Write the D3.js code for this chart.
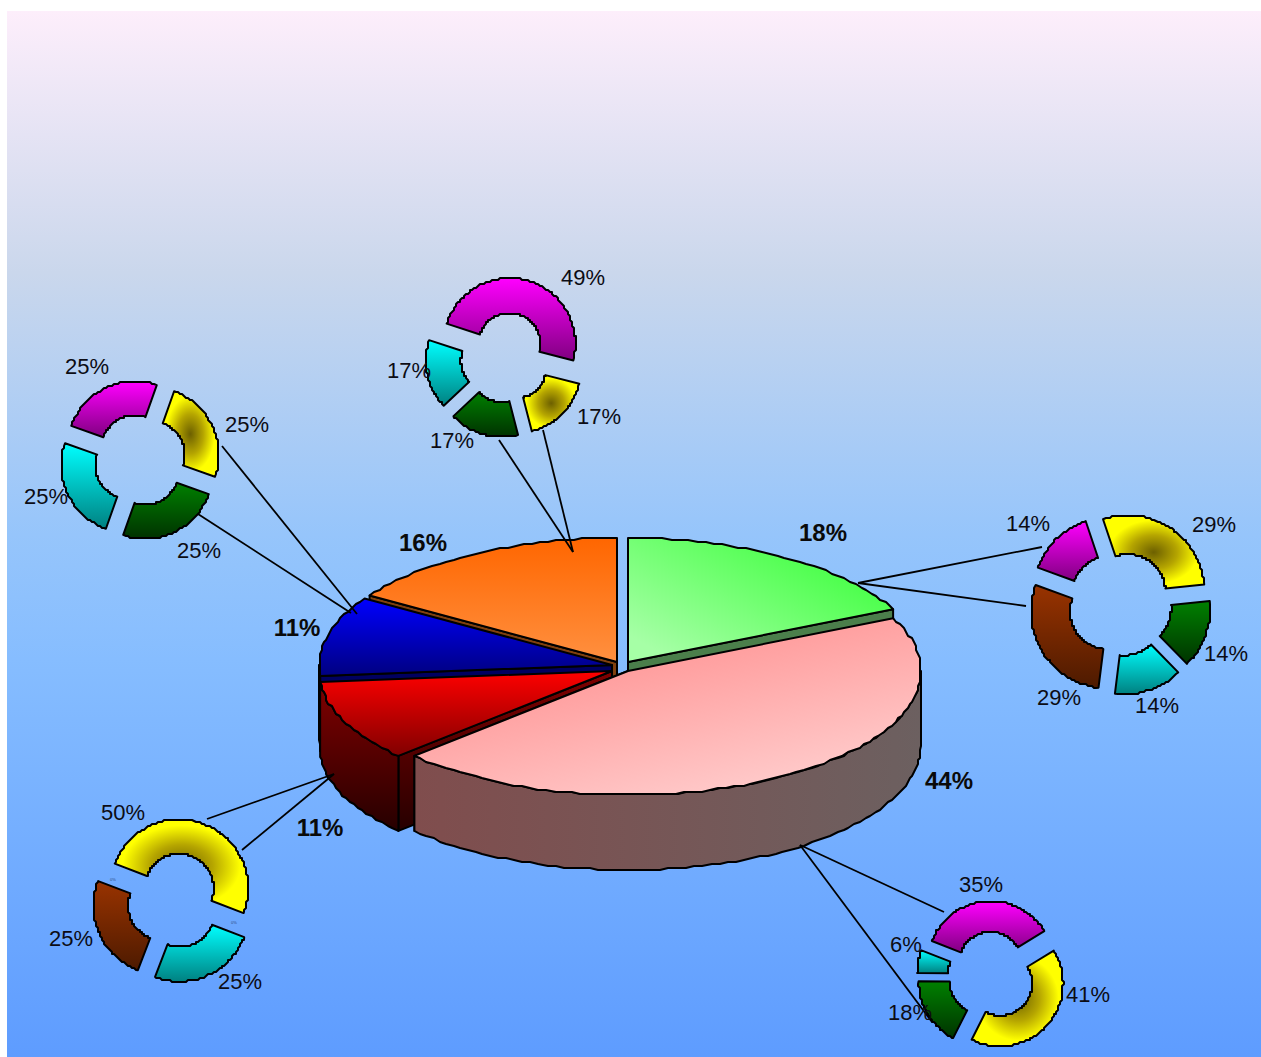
<!DOCTYPE html>
<html><head><meta charset="utf-8">
<script src="https://cdn.jsdelivr.net/npm/d3@7/dist/d3.min.js"></script>
<style>html,body{margin:0;padding:0;background:#fff}svg{display:block}text{font-family:"Liberation Sans",Arial,sans-serif}</style>
</head><body><div id="chart"></div>
<script>
// ---- data ----
const mainCategories = ["green","pink","red","blue","orange"];
const mainValues = [18, 45, 10.6, 10.4, 16];
const mainLabels = ["18%","44%","11%","11%","16%"];
const donutTopValues = [49,17,17,17];
const donutTopColors = ["magenta","yellow","green","cyan"];
const donutLeftValues = [1,1,1,1];
const donutLeftColors = ["magenta","yellow","green","cyan"];
const donutRightValues = [2,1,1,2,1];
const donutRightColors = ["yellow","green","cyan","brown","magenta"];
const donutLowLeftValues = [2,1,1];
const donutLowLeftColors = ["yellow","cyan","brown"];
const donutLowRightValues = [6,7,3,1];
const donutLowRightColors = ["magenta","yellow","green","cyan"];

// ---- layout ----
const W=1261,H=1057;
const RX=293,RY=124,DEPTH=75;
const mainCentres=[[628,662],[628,671],[612,671],[612,665],[617,662]];
const mainLabelPos=[[823,532],[949,780],[320,827],[297,627],[423,542]];
const donuts=[
 {v:donutTopValues,c:donutTopColors,x:505.5,y:357.5,r1:66,r0:31,off:14,start:-72,
  pos:[[583,277],[599,416],[452,440],[409,370]]},
 {v:donutLeftValues,c:donutLeftColors,x:140,y:460,r1:67,r0:33,off:13,start:-70.5,
  pos:[[87,366],[247,424],[199,550],[46,496]]},
 {v:donutRightValues,c:donutRightColors,x:1120,y:604,r1:77,r0:38,off:14,start:-18.6,
  pos:[[1214,524],[1226,653],[1157,705],[1059,697],[1028,523]]},
 {v:donutLowLeftValues,c:donutLowLeftColors,x:174.5,y:900.5,r1:69,r0:34.5,off:13,start:-69,
  pos:[[123,812],[240,981],[71,938]]},
 {v:donutLowRightValues,c:donutLowRightColors,x:991.5,y:975.6,r1:63,r0:32,off:11.6,start:-68.5,
  pos:[[981,884],[1088,994],[910,1012],[906,944]]}
];
const leaders=[
 [[573,552],[499,440]],[[573,552],[543,430]],
 [[357,614],[222,446]],[[351,613],[198,514]],
 [[858,583],[1042,547]],[[858,583],[1026,606]],
 [[334,774],[207,819]],[[334,774],[242,850]],
 [[800,845],[944,912]],[[800,845],[932,1022]]
];
const tinyLabels=[[113,880.5],[234,923.5]];

const svg=d3.select("#chart").append("svg").attr("width",W).attr("height",H);
const defs=svg.append("defs");
function grad(id,stops,x1=0,y1=0,x2=0,y2=1){
  const g=defs.append("linearGradient").attr("id",id).attr("x1",x1).attr("y1",y1).attr("x2",x2).attr("y2",y2);
  stops.forEach(s=>g.append("stop").attr("offset",s[0]).attr("stop-color",s[1]));
}
grad("bg",[[0,"#fdeefb"],[.25,"#cad7ec"],[.5,"#96c5fb"],[.62,"#86bdff"],[1,"#5e9cff"]]);
grad("magenta",[[0,"#ff00ff"],[1,"#800080"]]);
grad("green",[[0,"#008000"],[1,"#003300"]]);
grad("cyan",[[0,"#00ffff"],[1,"#008080"]]);
grad("brown",[[0,"#993300"],[1,"#4d1a00"]]);
const ry=defs.append("radialGradient").attr("id","yellow").attr("cx",.5).attr("cy",.5).attr("r",.52);
[[0,"#6d6000"],[.45,"#b5a500"],[.85,"#ffff00"],[1,"#ffff00"]].forEach(s=>ry.append("stop").attr("offset",s[0]).attr("stop-color",s[1]));
grad("t-green",[[0,"#a6ffa6"],[1,"#40ff40"]],.1,.9,.9,.2);
grad("t-pink",[[0,"#ff9999"],[1,"#ffcccc"]],.25,.3,.7,1);
grad("t-red",[[0,"#ff0000"],[1,"#800000"]]);
grad("t-blue",[[0,"#0000ff"],[1,"#000080"]]);
grad("t-orange",[[0,"#ff6600"],[1,"#ff9040"]]);
grad("w-pink",[[0,"#804d4d"],[1,"#6c6060"]],0,0,1,0);
grad("w-red",[[0,"#800000"],[1,"#260000"]]);
grad("c-red",[[0,"#800000"],[1,"#260000"]]);
const sideFill={green:"#4b7f4b",pink:"url(#w-pink)",red:"url(#w-red)",blue:"#000050",orange:"#7f3f10"};
const cutFill={green:"#4b7f4b",pink:"#804d4d",red:"url(#c-red)",blue:"#000060",orange:"#80400f"};

svg.append("rect").attr("x",7).attr("y",11).attr("width",W-7).attr("height",H-11).attr("fill","url(#bg)");

const line=d3.line();
const GRID=2;
const snap=v=>Math.round(v/GRID)*GRID;
function arcPts(cx,cy,rx,ry,a0,a1){
  const n=Math.max(2,Math.ceil(Math.abs(a1-a0)/0.03));
  const pts=d3.range(n+1).map(i=>{
    const a=a0+(a1-a0)*i/n;
    const x=cx+rx*Math.sin(a),y=cy-ry*Math.cos(a);
    return (i===0||i===n)?[x,y]:[snap(x),snap(y)];
  });
  return pts;
}
function draw(g,pts,fill,w=2){
  g.append("path").attr("d",line(pts)+"Z").attr("fill",fill)
   .attr("stroke","#000").attr("stroke-width",w).attr("stroke-linejoin","round");
}

// main pie
const mainArcs=d3.pie().sort(null).value(d=>d)(mainValues);
const gMain=svg.append("g");
const order=[4,3,2,0,1];
const PI=Math.PI;
order.forEach(i=>{
  const a=mainArcs[i],[cx,cy]=mainCentres[i],name=mainCategories[i];
  const g=gMain.append("g");
  const mid=(a.startAngle+a.endAngle)/2;
  const cut=mid>PI?a.startAngle:a.endAngle;
  const rim=[cx+RX*Math.sin(cut),cy-RY*Math.cos(cut)];
  draw(g,[[cx,cy],rim,[rim[0],rim[1]+DEPTH],[cx,cy+DEPTH]],cutFill[name]);
  const w0=Math.max(a.startAngle,PI/2),w1=Math.min(a.endAngle,PI*1.5);
  if(w1>w0){
    const top=arcPts(cx,cy,RX,RY,w0,w1);
    const bot=arcPts(cx,cy+DEPTH,RX,RY,w1,w0);
    draw(g,top.concat(bot),sideFill[name]);
  }
  draw(g,[[cx,cy]].concat(arcPts(cx,cy,RX,RY,a.startAngle,a.endAngle)),"url(#t-"+name+")");
});

// small exploded rings
const gDon=svg.append("g"),gLab=svg.append("g");
donuts.forEach(d=>{
  const s=d.start*PI/180;
  const arcs=d3.pie().sort(null).value(v=>v).startAngle(s).endAngle(s+2*PI)(d.v);
  const tot=d3.sum(d.v);
  arcs.forEach((a,i)=>{
    const m=(a.startAngle+a.endAngle)/2;
    const cx=d.x+d.off*Math.sin(m),cy=d.y-d.off*Math.cos(m);
    const pts=arcPts(cx,cy,d.r1,d.r1,a.startAngle,a.endAngle)
      .concat(arcPts(cx,cy,d.r0,d.r0,a.endAngle,a.startAngle));
    draw(gDon,pts,"url(#"+d.c[i]+")");
    gLab.append("text").attr("x",d.pos[i][0]).attr("y",d.pos[i][1]+7.5)
      .attr("text-anchor","middle").attr("font-size",22)
      .attr("fill","#0c0c14").text(d3.format(".0%")(a.value/tot));
  });
});

// leader lines
svg.append("g").selectAll("path").data(leaders).join("path")
  .attr("d",d=>line(d)).attr("stroke","#000").attr("stroke-width",1.8).attr("fill","none");

// main labels
gLab.raise();
mainLabels.forEach((t,i)=>{
  gLab.append("text").attr("x",mainLabelPos[i][0]).attr("y",mainLabelPos[i][1]+8.5)
    .attr("text-anchor","middle").attr("font-size",24).attr("font-weight","bold")
    .attr("fill","#0a0a0a").text(t);
});
tinyLabels.forEach(p=>{
  gLab.append("text").attr("x",p[0]).attr("y",p[1]).attr("text-anchor","middle")
    .attr("font-size",4).attr("fill","#2c4a80").text("0%");
});
</script></body></html>
